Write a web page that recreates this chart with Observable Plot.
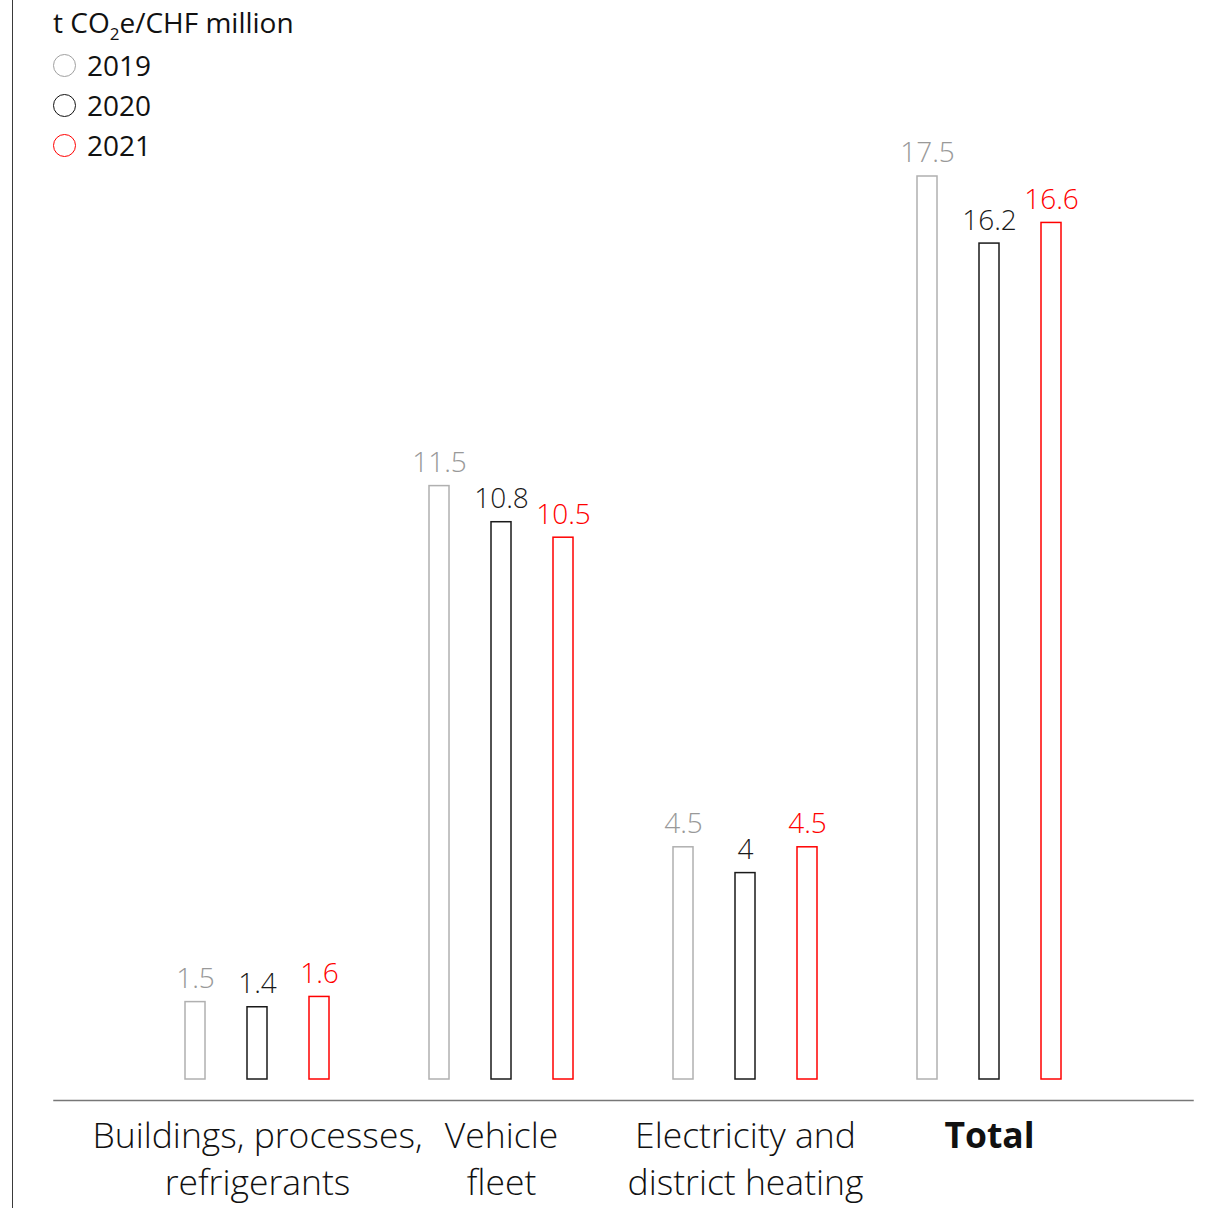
<!DOCTYPE html>
<html>
<head>
<meta charset="utf-8">
<script src="https://cdn.jsdelivr.net/npm/d3@7"></script>
<script src="https://cdn.jsdelivr.net/npm/@observablehq/plot@0.6"></script>
<style>
  html, body { margin: 0; padding: 0; background: #fff; }
  #wrap { position: relative; width: 1224px; height: 1208px; font-family: "Open Sans", sans-serif; color: #111; overflow: hidden; }
  #edge { position: absolute; left: 12px; top: 0; height: 1208px; border-left: 1.5px solid #3a3a3a; }
  #legend { position: absolute; left: 53px; top: 0; font-size: 28px; font-weight: 400; }
  #unit { position: absolute; left: 0; top: 2px; line-height: 40px; white-space: nowrap; }
  #unit sub { font-size: 17px; vertical-align: -7px; line-height: 0; }
  .row { position: absolute; left: 0; height: 40px; display: flex; align-items: center; white-space: nowrap; line-height: 40px; }
  .dot { box-sizing: border-box; width: 23px; height: 23px; border-radius: 50%; border: 1.5px solid; margin-right: 11px; }
  #chart svg { display: block; }
</style>
</head>
<body>
<div id="wrap">
  <div id="chart"></div>
  <div id="edge"></div>
  <div id="legend"><div id="unit">t CO<sub>2</sub>e/CHF million</div></div>
</div>
<script>
const categories = ["Buildings, processes, refrigerants", "Vehicle fleet", "Electricity and district heating", "Total"];
const categoryLines = ["Buildings, processes,\nrefrigerants", "Vehicle\nfleet", "Electricity and\ndistrict heating", "Total"];
const years = ["2019", "2020", "2021"];
const values2019 = [1.5, 11.5, 4.5, 17.5];
const values2020 = [1.4, 10.8, 4, 16.2];
const values2021 = [1.6, 10.5, 4.5, 16.6];
const barColors = ["#b0b0b0", "#1a1a1a", "#ff0000"];
const labelColors = ["#999999", "#1a1a1a", "#ff0000"];
const legendColors = ["#a0a0a0", "#111111", "#ff0000"];

const seriesValues = [values2019, values2020, values2021];
const rows = categories.flatMap((c, i) => years.map((y, j) => ({category: c, year: y, value: seriesValues[j][i]})));

const chart = Plot.plot({
  width: 1224,
  height: 1208,
  marginLeft: 53,
  marginRight: 31,
  marginTop: 47,
  marginBottom: 129,
  style: {fontFamily: '"Open Sans", sans-serif', background: "transparent", overflow: "visible"},
  fx: {domain: categories, paddingInner: 0, paddingOuter: 0.334, axis: null},
  x: {domain: years, paddingInner: 0.677, paddingOuter: 0.806, axis: null},
  y: {domain: [0, 20], axis: null},
  marks: [
    Plot.frame({anchor: "bottom", facet: "super", stroke: "#777", strokeWidth: 1.5, insetBottom: -21, insetLeft: -81.5, insetRight: -81.5}),
    ...years.map((yr, j) => Plot.barY(rows.filter(d => d.year === yr), {
      fx: "category", x: "year", y: "value",
      fill: "none", stroke: barColors[j], strokeWidth: 1.5
    })),
    ...years.map((yr, j) => Plot.text(rows.filter(d => d.year === yr), {
      fx: "category", x: "year", y: "value",
      text: d => String(d.value),
      fill: labelColors[j], fontSize: 28, fontWeight: 300, dy: -23
    })),
    Plot.text(categories.filter(c => c !== "Total"), {
      fx: d => d, frameAnchor: "bottom",
      text: d => categoryLines[categories.indexOf(d)],
      fontSize: 35.5, fontWeight: 300, lineAnchor: "top", lineHeight: 1.35, dy: 34, fill: "#111"
    }),
    Plot.text(categories.filter(c => c === "Total"), {
      fx: d => d, frameAnchor: "bottom",
      text: d => categoryLines[categories.indexOf(d)],
      fontSize: 35.5, fontWeight: "bold", lineAnchor: "top", lineHeight: 1.35, dy: 34, fill: "#111"
    })
  ]
});
document.getElementById("chart").appendChild(chart);

const legend = document.getElementById("legend");
years.forEach((yr, j) => {
  const row = document.createElement("div");
  row.className = "row";
  row.style.top = (45 + j * 40) + "px";
  const dot = document.createElement("span");
  dot.className = "dot";
  dot.style.borderColor = legendColors[j];
  const label = document.createElement("span");
  label.textContent = yr;
  row.appendChild(dot);
  row.appendChild(label);
  legend.appendChild(row);
});
</script>
</body>
</html>
